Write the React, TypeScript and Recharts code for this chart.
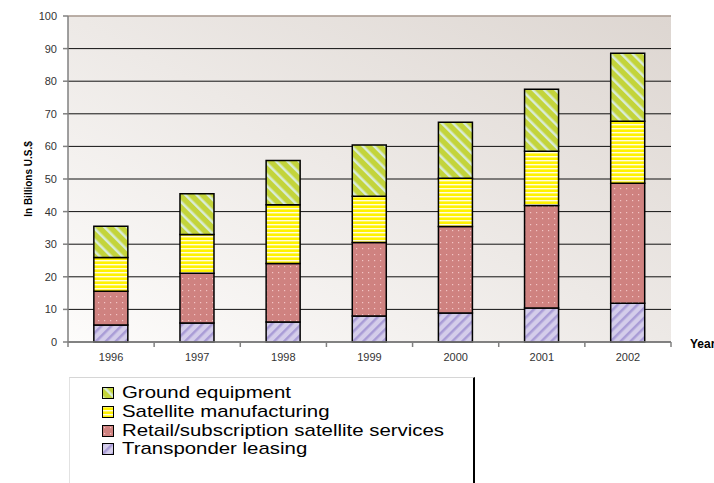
import { BarChart, Bar, XAxis, YAxis, CartesianGrid, ReferenceLine } from "recharts";

const years = ["1996", "1997", "1998", "1999", "2000", "2001", "2002"];
const transponder = [5.2, 5.8, 6.1, 8.0, 8.9, 10.4, 11.9];
const retail = [10.4, 15.3, 18.0, 22.5, 26.5, 31.5, 36.8];
const satellite = [10.3, 11.9, 18.0, 14.2, 14.8, 16.6, 19.0];
const ground = [9.6, 12.5, 13.6, 15.7, 17.2, 19.0, 20.9];
const yTicks = [0, 10, 20, 30, 40, 50, 60, 70, 80, 90, 100];

const data = years.map((year, i) => ({
  year,
  transponder: transponder[i],
  retail: retail[i],
  satellite: satellite[i],
  ground: ground[i],
}));

const legendItems = [
  { label: "Ground equipment", fill: "url(#pGround)" },
  { label: "Satellite manufacturing", fill: "url(#pSat)" },
  { label: "Retail/subscription satellite services", fill: "url(#pRetail)" },
  { label: "Transponder leasing", fill: "url(#pTrans)" },
];

const font = "'Liberation Sans', Arial, sans-serif";
const band = (671 - 68) / years.length;

function YearTick({ x, y, payload, index }: any) {
  const last = index === years.length - 1;
  return (
    <g>
      <line x1={x - band / 2} x2={x - band / 2} y1={y} y2={y + 5} stroke="#808080" strokeWidth={1.5} />
      {last && <line x1={x + band / 2} x2={x + band / 2} y1={y} y2={y + 5} stroke="#808080" strokeWidth={1.5} />}
      <text x={x} y={y + 19} textAnchor="middle" fontSize={11} fill="#333" fontFamily={font}>
        {payload.value}
      </text>
    </g>
  );
}

export default function App() {
  return (
    <div style={{ position: "absolute", left: 0, top: 0, width: 714, height: 483, background: "#fff", fontFamily: font }}>
      <BarChart width={714} height={370} data={data} margin={{ top: 16, right: 43, left: 12, bottom: 6 }} barCategoryGap="30%">
        <defs>
          <linearGradient id="bg" x1="0" y1="1" x2="1" y2="0">
            <stop offset="0%" stopColor="#fdfcfb" />
            <stop offset="100%" stopColor="#ddd6d1" />
          </linearGradient>
          <pattern id="pGround" width="8" height="8" patternUnits="userSpaceOnUse" patternTransform="rotate(-45)">
            <rect width="8" height="8" fill="#c3d43b" />
            <rect width="2.5" height="8" fill="#d9ecd6" />
          </pattern>
          <pattern id="pSat" width="4" height="4" patternUnits="userSpaceOnUse">
            <rect width="4" height="4" fill="#fff200" />
            <rect width="4" height="1.4" fill="#fffbe0" />
          </pattern>
          <pattern id="pRetail" width="6" height="6" patternUnits="userSpaceOnUse">
            <rect width="6" height="6" fill="#cf8280" />
            <rect x="2" y="2" width="1.2" height="1.2" fill="#f3c4c4" />
          </pattern>
          <pattern id="pTrans" width="7" height="7" patternUnits="userSpaceOnUse" patternTransform="rotate(45)">
            <rect width="7" height="7" fill="#d4cdea" />
            <rect width="2.5" height="7" fill="#a99cd6" />
          </pattern>
        </defs>
        <CartesianGrid vertical={false} stroke="#111" fill="url(#bg)" fillOpacity={1} />
        <ReferenceLine y={100} stroke="#cdbcb2" strokeWidth={1.5} />
        <XAxis
          dataKey="year"
          stroke="#808080"
          strokeWidth={1.5}
          tickLine={false}
          tickSize={0}
          tickMargin={0}
          height={22}
          tick={<YearTick />}
          label={{ value: "Year", position: "right", offset: 19, dy: -9, style: { fontWeight: "bold", fontSize: 12, fill: "#000", fontFamily: font } }}
        />
        <YAxis
          width={56}
          domain={[0, 100]}
          ticks={yTicks}
          interval={0}
          stroke="#808080"
          strokeWidth={1.5}
          tickSize={5}
          tickMargin={6}
          tick={{ fontSize: 11, fill: "#333", fontFamily: font }}
          label={{ value: "In Billions U.S.$", angle: -90, position: "insideLeft", offset: 16, style: { textAnchor: "middle", fontWeight: "bold", fontSize: 10, fill: "#000", fontFamily: font } }}
        />
        <Bar dataKey="transponder" stackId="a" fill="url(#pTrans)" stroke="#000" strokeWidth={1.5} isAnimationActive={false} />
        <Bar dataKey="retail" stackId="a" fill="url(#pRetail)" stroke="#000" strokeWidth={1.5} isAnimationActive={false} />
        <Bar dataKey="satellite" stackId="a" fill="url(#pSat)" stroke="#000" strokeWidth={1.5} isAnimationActive={false} />
        <Bar dataKey="ground" stackId="a" fill="url(#pGround)" stroke="#000" strokeWidth={1.5} isAnimationActive={false} />
      </BarChart>
      <div
        style={{
          position: "absolute",
          left: 69,
          top: 377,
          width: 406,
          height: 106,
          borderTop: "1px solid #d6d6d6",
          borderLeft: "1px solid #e2e2e2",
          borderRight: "2px solid #000",
          boxSizing: "border-box",
          paddingTop: 6,
        }}
      >
        {legendItems.map((item) => (
          <div key={item.label} style={{ display: "flex", alignItems: "center", height: 18.7, marginLeft: 32 }}>
            <svg width={12} height={12} style={{ marginRight: 8, flexShrink: 0 }}>
              <rect x={0.5} y={0.5} width={11} height={11} fill={item.fill} stroke="#000" strokeWidth={1} />
            </svg>
            <span
              style={{
                display: "inline-block",
                fontSize: 17,
                color: "#000",
                lineHeight: "18px",
                whiteSpace: "nowrap",
                transform: "scaleX(1.2)",
                transformOrigin: "left center",
              }}
            >
              {item.label}
            </span>
          </div>
        ))}
      </div>
    </div>
  );
}
